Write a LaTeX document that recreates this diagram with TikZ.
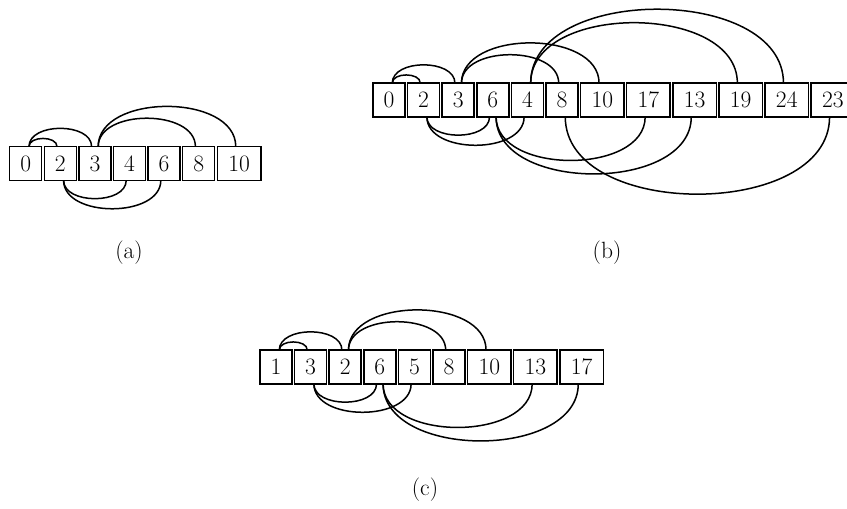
\documentclass[tikz,border=0pt]{standalone}
\usetikzlibrary{positioning}
\begin{document}
\begin{tikzpicture}[x=1pt,y=1pt,
  cell/.style={draw, line width=1.5pt, minimum width=32pt, minimum height=33.7pt,
    inner sep=0pt, outer sep=0pt, font=\fontsize{23.5}{27}\selectfont},
  wide/.style={minimum width=43.5pt},
  link/.style={line width=1.5pt},
  arcup/.style={out=90,in=90},
  arcdown/.style={out=-90,in=-90},
  lbl/.style={font=\fontsize{23.5}{27}\selectfont},
  node distance=2.6pt]
\useasboundingbox (0,0) rectangle (847,509);

% (a)
\node[cell, anchor=west] (a0) at (9.7,345.5) {0};
\node[cell, right=of a0] (a2) {2};
\node[cell, right=of a2] (a3) {3};
\node[cell, right=of a3] (a4) {4};
\node[cell, right=of a4] (a6) {6};
\node[cell, right=of a6] (a8) {8};
\node[cell, wide, right=of a8] (a10) {10};
\draw[link] (a0.79) to[arcup] (a2.101);
\draw[link] (a0.79) to[arcup] (a3.101);
\draw[link] (a3.79) to[arcup] (a8.101);
\draw[link] (a3.79) to[arcup] (a10.101);
\draw[link] (a2.-79) to[arcdown] (a4.-101);
\draw[link] (a2.-79) to[arcdown] (a6.-101);
\node[lbl] (la) at (129,256) {(a)};

% (b)
\node[cell, anchor=west] (b0) at (373,409) {0};
\node[cell, right=of b0] (b2) {2};
\node[cell, right=of b2] (b3) {3};
\node[cell, right=of b3] (b6) {6};
\node[cell, right=of b6] (b4) {4};
\node[cell, right=of b4] (b8) {8};
\node[cell, wide, right=of b8] (b10) {10};
\node[cell, wide, right=of b10] (b17) {17};
\node[cell, wide, right=of b17] (b13) {13};
\node[cell, wide, right=of b13] (b19) {19};
\node[cell, wide, right=of b19] (b24) {24};
\node[cell, wide, right=of b24] (b23) {23};
\draw[link] (b0.79) to[arcup] (b2.101);
\draw[link] (b0.79) to[arcup] (b3.101);
\draw[link] (b3.79) to[arcup] (b8.101);
\draw[link] (b3.79) to[arcup] (b10.101);
\draw[link] (b4.79) to[arcup] (b19.101);
\draw[link] (b4.79) to[arcup] (b24.101);
\draw[link] (b2.-79) to[arcdown] (b6.-101);
\draw[link] (b2.-79) to[arcdown] (b4.-101);
\draw[link] (b6.-79) to[arcdown] (b17.-101);
\draw[link] (b6.-79) to[arcdown] (b13.-101);
\draw[link] (b8.-79) to[arcdown] (b23.-101);
\node[lbl] (lb) at (607,256) {(b)};

% (c)
\node[cell, anchor=west] (c1) at (260,142) {1};
\node[cell, right=of c1] (c3) {3};
\node[cell, right=of c3] (c2) {2};
\node[cell, right=of c2] (c6) {6};
\node[cell, right=of c6] (c5) {5};
\node[cell, right=of c5] (c8) {8};
\node[cell, wide, right=of c8] (c10) {10};
\node[cell, wide, right=of c10] (c13) {13};
\node[cell, wide, right=of c13] (c17) {17};
\draw[link] (c1.79) to[arcup] (c3.101);
\draw[link] (c1.79) to[arcup] (c2.101);
\draw[link] (c2.79) to[arcup] (c8.101);
\draw[link] (c2.79) to[arcup] (c10.101);
\draw[link] (c3.-79) to[arcdown] (c6.-101);
\draw[link] (c3.-79) to[arcdown] (c5.-101);
\draw[link] (c6.-79) to[arcdown] (c13.-101);
\draw[link] (c6.-79) to[arcdown] (c17.-101);
\node[lbl] (lc) at (425,19) {(c)};
\end{tikzpicture}
\end{document}
